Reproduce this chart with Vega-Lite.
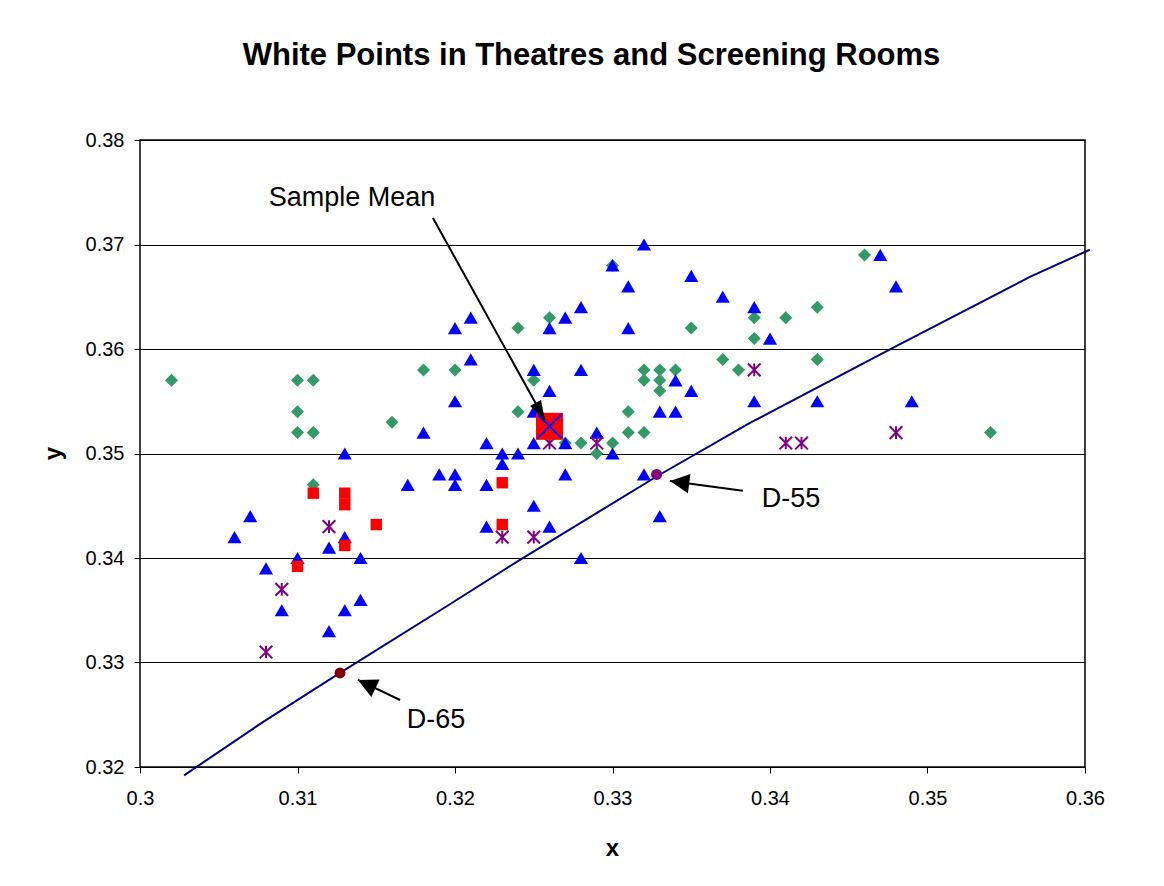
{
  "$schema": "https://vega.github.io/schema/vega-lite/v6.json",
  "width": 945,
  "height": 627,
  "autosize": {"type": "none"},
  "padding": {"left": 140, "top": 140, "right": 79, "bottom": 119},
  "background": "white",
  "title": {
    "text": "White Points in Theatres and Screening Rooms",
    "font": "Liberation Sans",
    "fontSize": 31,
    "fontWeight": "bold",
    "color": "#000000",
    "anchor": "middle",
    "frame": "group",
    "baseline": "alphabetic",
    "offset": 34,
    "dx": -21
  },
  "config": {
    "view": {"stroke": "#000000", "strokeWidth": 1.5},
    "font": "Liberation Sans",
    "axis": {
      "domain": false,
      "labelFlush": false,
      "tickColor": "#000000",
      "tickSize": 6,
      "labelColor": "#000000",
      "labelFont": "Liberation Sans",
      "labelFontSize": 20,
      "titleFont": "Liberation Sans",
      "titleFontSize": 24,
      "titleFontWeight": "bold",
      "titleColor": "#000000"
    }
  },
  "datasets": {
    "pts": [
      {"x": 0.302, "y": 0.357, "s": "A"}, {"x": 0.310, "y": 0.357, "s": "A"}, {"x": 0.311, "y": 0.357, "s": "A"},
      {"x": 0.310, "y": 0.354, "s": "A"}, {"x": 0.310, "y": 0.352, "s": "A"}, {"x": 0.311, "y": 0.352, "s": "A"},
      {"x": 0.311, "y": 0.347, "s": "A"}, {"x": 0.316, "y": 0.353, "s": "A"}, {"x": 0.318, "y": 0.358, "s": "A"},
      {"x": 0.320, "y": 0.358, "s": "A"}, {"x": 0.324, "y": 0.362, "s": "A"}, {"x": 0.325, "y": 0.357, "s": "A"},
      {"x": 0.326, "y": 0.363, "s": "A"}, {"x": 0.324, "y": 0.354, "s": "A"}, {"x": 0.330, "y": 0.368, "s": "A"},
      {"x": 0.327, "y": 0.351, "s": "A"}, {"x": 0.328, "y": 0.351, "s": "A"}, {"x": 0.329, "y": 0.350, "s": "A"},
      {"x": 0.330, "y": 0.351, "s": "A"}, {"x": 0.331, "y": 0.354, "s": "A"}, {"x": 0.331, "y": 0.352, "s": "A"},
      {"x": 0.332, "y": 0.352, "s": "A"}, {"x": 0.332, "y": 0.358, "s": "A"}, {"x": 0.333, "y": 0.358, "s": "A"},
      {"x": 0.334, "y": 0.358, "s": "A"}, {"x": 0.332, "y": 0.357, "s": "A"}, {"x": 0.333, "y": 0.357, "s": "A"},
      {"x": 0.333, "y": 0.356, "s": "A"}, {"x": 0.335, "y": 0.362, "s": "A"}, {"x": 0.337, "y": 0.359, "s": "A"},
      {"x": 0.338, "y": 0.358, "s": "A"}, {"x": 0.339, "y": 0.363, "s": "A"}, {"x": 0.339, "y": 0.361, "s": "A"},
      {"x": 0.341, "y": 0.363, "s": "A"}, {"x": 0.343, "y": 0.364, "s": "A"}, {"x": 0.343, "y": 0.359, "s": "A"},
      {"x": 0.346, "y": 0.369, "s": "A"}, {"x": 0.354, "y": 0.352, "s": "A"},
      {"x": 0.306, "y": 0.342, "s": "B"}, {"x": 0.307, "y": 0.344, "s": "B"}, {"x": 0.308, "y": 0.339, "s": "B"},
      {"x": 0.309, "y": 0.335, "s": "B"}, {"x": 0.310, "y": 0.340, "s": "B"}, {"x": 0.312, "y": 0.341, "s": "B"},
      {"x": 0.312, "y": 0.333, "s": "B"}, {"x": 0.313, "y": 0.350, "s": "B"}, {"x": 0.313, "y": 0.342, "s": "B"},
      {"x": 0.313, "y": 0.335, "s": "B"}, {"x": 0.314, "y": 0.340, "s": "B"}, {"x": 0.314, "y": 0.336, "s": "B"},
      {"x": 0.317, "y": 0.347, "s": "B"}, {"x": 0.318, "y": 0.352, "s": "B"}, {"x": 0.319, "y": 0.348, "s": "B"},
      {"x": 0.320, "y": 0.362, "s": "B"}, {"x": 0.320, "y": 0.355, "s": "B"}, {"x": 0.320, "y": 0.348, "s": "B"},
      {"x": 0.320, "y": 0.347, "s": "B"}, {"x": 0.321, "y": 0.363, "s": "B"}, {"x": 0.321, "y": 0.359, "s": "B"},
      {"x": 0.322, "y": 0.351, "s": "B"}, {"x": 0.322, "y": 0.347, "s": "B"}, {"x": 0.322, "y": 0.343, "s": "B"},
      {"x": 0.323, "y": 0.350, "s": "B"}, {"x": 0.323, "y": 0.349, "s": "B"}, {"x": 0.324, "y": 0.350, "s": "B"},
      {"x": 0.325, "y": 0.358, "s": "B"}, {"x": 0.325, "y": 0.354, "s": "B"}, {"x": 0.325, "y": 0.351, "s": "B"},
      {"x": 0.325, "y": 0.345, "s": "B"}, {"x": 0.326, "y": 0.356, "s": "B"}, {"x": 0.326, "y": 0.362, "s": "B"},
      {"x": 0.326, "y": 0.343, "s": "B"}, {"x": 0.327, "y": 0.363, "s": "B"}, {"x": 0.327, "y": 0.351, "s": "B"},
      {"x": 0.327, "y": 0.348, "s": "B"}, {"x": 0.328, "y": 0.364, "s": "B"}, {"x": 0.328, "y": 0.358, "s": "B"},
      {"x": 0.328, "y": 0.340, "s": "B"}, {"x": 0.329, "y": 0.352, "s": "B"}, {"x": 0.330, "y": 0.368, "s": "B"},
      {"x": 0.330, "y": 0.350, "s": "B"}, {"x": 0.331, "y": 0.366, "s": "B"}, {"x": 0.331, "y": 0.362, "s": "B"},
      {"x": 0.332, "y": 0.370, "s": "B"}, {"x": 0.332, "y": 0.348, "s": "B"}, {"x": 0.333, "y": 0.354, "s": "B"},
      {"x": 0.333, "y": 0.344, "s": "B"}, {"x": 0.334, "y": 0.357, "s": "B"}, {"x": 0.334, "y": 0.354, "s": "B"},
      {"x": 0.335, "y": 0.367, "s": "B"}, {"x": 0.335, "y": 0.356, "s": "B"}, {"x": 0.337, "y": 0.365, "s": "B"},
      {"x": 0.339, "y": 0.364, "s": "B"}, {"x": 0.339, "y": 0.355, "s": "B"}, {"x": 0.340, "y": 0.361, "s": "B"},
      {"x": 0.343, "y": 0.355, "s": "B"}, {"x": 0.347, "y": 0.369, "s": "B"}, {"x": 0.348, "y": 0.366, "s": "B"},
      {"x": 0.349, "y": 0.355, "s": "B"},
      {"x": 0.311, "y": 0.3462, "s": "C"}, {"x": 0.313, "y": 0.3462, "s": "C"}, {"x": 0.313, "y": 0.3451, "s": "C"},
      {"x": 0.315, "y": 0.3432, "s": "C"}, {"x": 0.313, "y": 0.3412, "s": "C"}, {"x": 0.310, "y": 0.3392, "s": "C"},
      {"x": 0.323, "y": 0.3472, "s": "C"}, {"x": 0.323, "y": 0.3432, "s": "C"},
      {"x": 0.312, "y": 0.343, "s": "D"}, {"x": 0.309, "y": 0.337, "s": "D"}, {"x": 0.308, "y": 0.331, "s": "D"},
      {"x": 0.323, "y": 0.342, "s": "D"}, {"x": 0.325, "y": 0.342, "s": "D"}, {"x": 0.326, "y": 0.351, "s": "D"},
      {"x": 0.329, "y": 0.351, "s": "D"}, {"x": 0.339, "y": 0.358, "s": "D"}, {"x": 0.341, "y": 0.351, "s": "D"},
      {"x": 0.342, "y": 0.351, "s": "D"}, {"x": 0.348, "y": 0.352, "s": "D"},
      {"x": 0.326, "y": 0.3526, "s": "Mean"}
    ],
    "locus": [
      {"x": 0.3028, "y": 0.3192}, {"x": 0.3078, "y": 0.3243}, {"x": 0.3127, "y": 0.3290},
      {"x": 0.3197, "y": 0.3356}, {"x": 0.3241, "y": 0.3398}, {"x": 0.3328, "y": 0.3478},
      {"x": 0.3387, "y": 0.3529}, {"x": 0.3478, "y": 0.3601}, {"x": 0.3565, "y": 0.3669},
      {"x": 0.3603, "y": 0.3695}
    ],
    "dpts": [
      {"x": 0.3127, "y": 0.3290, "name": "D-65"},
      {"x": 0.3328, "y": 0.3480, "name": "D-55"}
    ],
    "arrows": [
      {"name": "Sample Mean", "x": 0.32571, "y": 0.35321, "x2": 0.31860, "y2": 0.37254, "ang": 151},
      {"name": "D-55", "x": 0.33365, "y": 0.34737, "x2": 0.33827, "y2": 0.34644, "ang": 277.6},
      {"name": "D-65", "x": 0.31384, "y": 0.32833, "x2": 0.31651, "y2": 0.32641, "ang": 295.5}
    ],
    "labels": [
      {"text": "Sample Mean", "x": 0.31346, "y": 0.37445},
      {"text": "D-55", "x": 0.34133, "y": 0.34565},
      {"text": "D-65", "x": 0.31879, "y": 0.3245}
    ]
  },
  "layer": [
    {
      "data": {"name": "locus"},
      "mark": {"type": "line", "color": "#000080", "strokeWidth": 2, "clip": false},
      "encoding": {
        "x": {
          "field": "x", "type": "quantitative",
          "scale": {"domain": [0.3, 0.36], "nice": false, "zero": false},
          "axis": {
            "values": [0.3, 0.31, 0.32, 0.33, 0.34, 0.35, 0.36],
            "format": "~g", "grid": false, "labelPadding": 15,
            "title": "x", "titleX": 472, "titleY": 88, "titleBaseline": "alphabetic"
          }
        },
        "y": {
          "field": "y", "type": "quantitative",
          "scale": {"domain": [0.32, 0.38], "nice": false, "zero": false},
          "axis": {
            "values": [0.32, 0.33, 0.34, 0.35, 0.36, 0.37, 0.38],
            "format": "~g", "grid": true, "gridColor": "#000000", "gridOpacity": 1, "gridWidth": 1,
            "labelPadding": 10,
            "title": "y", "titleX": -80, "titleY": 313, "titleBaseline": "alphabetic", "titleAngle": -90
          }
        }
      }
    },
    {
      "data": {"name": "pts"},
      "transform": [{"filter": "datum.s === 'A'"}],
      "mark": {"type": "point", "shape": "diamond", "filled": true, "color": "#339966", "size": 170, "opacity": 1},
      "encoding": {
        "x": {"field": "x", "type": "quantitative"},
        "y": {"field": "y", "type": "quantitative"}
      }
    },
    {
      "data": {"name": "pts"},
      "transform": [{"filter": "datum.s === 'B'"}],
      "mark": {"type": "point", "shape": "triangle-up", "filled": true, "color": "#0000FF", "size": 200, "opacity": 1},
      "encoding": {
        "x": {"field": "x", "type": "quantitative"},
        "y": {"field": "y", "type": "quantitative"}
      }
    },
    {
      "data": {"name": "pts"},
      "transform": [{"filter": "datum.s === 'C'"}],
      "mark": {"type": "point", "shape": "square", "filled": true, "color": "#FF0000", "size": 130, "opacity": 1},
      "encoding": {
        "x": {"field": "x", "type": "quantitative"},
        "y": {"field": "y", "type": "quantitative"}
      }
    },
    {
      "data": {"name": "pts"},
      "transform": [{"filter": "datum.s === 'D'"}],
      "mark": {"type": "point", "shape": "M-1,-1L1,1M-1,1L1,-1M0,-1L0,1", "filled": false, "stroke": "#800080", "strokeWidth": 2, "size": 160, "opacity": 1},
      "encoding": {
        "x": {"field": "x", "type": "quantitative"},
        "y": {"field": "y", "type": "quantitative"}
      }
    },
    {
      "data": {"name": "dpts"},
      "mark": {"type": "circle", "size": 120, "opacity": 1},
      "encoding": {
        "x": {"field": "x", "type": "quantitative"},
        "y": {"field": "y", "type": "quantitative"},
        "color": {"field": "name", "type": "nominal", "scale": {"domain": ["D-65", "D-55"], "range": ["#800000", "#800080"]}, "legend": null}
      }
    },
    {
      "data": {"name": "pts"},
      "transform": [{"filter": "datum.s === 'Mean'"}],
      "mark": {"type": "point", "shape": "square", "filled": true, "color": "#FF0000", "size": 730, "opacity": 1},
      "encoding": {
        "x": {"field": "x", "type": "quantitative"},
        "y": {"field": "y", "type": "quantitative"}
      }
    },
    {
      "data": {"name": "pts"},
      "transform": [{"filter": "datum.s === 'Mean'"}],
      "mark": {"type": "point", "shape": "M-1,-1L1,1M-1,1L1,-1", "filled": false, "stroke": "#0000FF", "strokeWidth": 2, "size": 560, "opacity": 1},
      "encoding": {
        "x": {"field": "x", "type": "quantitative"},
        "y": {"field": "y", "type": "quantitative"}
      }
    },
    {
      "data": {"name": "arrows"},
      "mark": {"type": "rule", "color": "#000000", "strokeWidth": 2},
      "encoding": {
        "x": {"field": "x", "type": "quantitative"},
        "y": {"field": "y", "type": "quantitative"},
        "x2": {"field": "x2"},
        "y2": {"field": "y2"}
      }
    },
    {
      "data": {"name": "arrows"},
      "transform": [{"filter": "datum.name === 'Sample Mean'"}],
      "mark": {"type": "point", "shape": "M0,0L-0.32,1L0.32,1Z", "filled": true, "color": "#000000", "size": 1500, "opacity": 1},
      "encoding": {
        "x": {"field": "x", "type": "quantitative"},
        "y": {"field": "y", "type": "quantitative"},
        "angle": {"field": "ang", "type": "quantitative", "scale": null}
      }
    },
    {
      "data": {"name": "arrows"},
      "transform": [{"filter": "datum.name !== 'Sample Mean'"}],
      "mark": {"type": "point", "shape": "M0,0L-0.5,1L0.5,1Z", "filled": true, "color": "#000000", "size": 1500, "opacity": 1},
      "encoding": {
        "x": {"field": "x", "type": "quantitative"},
        "y": {"field": "y", "type": "quantitative"},
        "angle": {"field": "ang", "type": "quantitative", "scale": null}
      }
    },
    {
      "data": {"name": "labels"},
      "mark": {"type": "text", "font": "Liberation Sans", "fontSize": 27, "color": "#000000", "align": "center", "baseline": "middle"},
      "encoding": {
        "x": {"field": "x", "type": "quantitative"},
        "y": {"field": "y", "type": "quantitative"},
        "text": {"field": "text"}
      }
    }
  ]
}
